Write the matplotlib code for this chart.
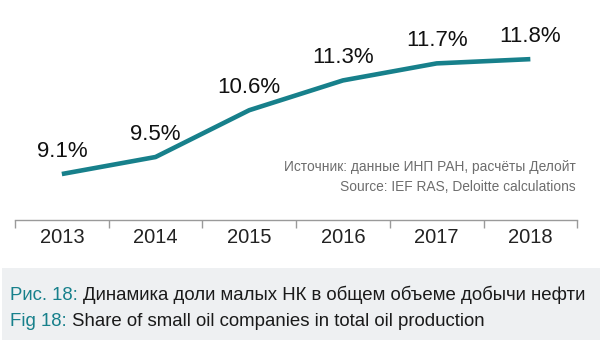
import matplotlib.pyplot as plt
from matplotlib.patches import Rectangle

plt.rcParams['font.family'] = ['Liberation Sans', 'DejaVu Sans']

# data
years = ['2013', '2014', '2015', '2016', '2017', '2018']
share = [9.1, 9.5, 10.6, 11.3, 11.7, 11.8]

teal = '#17808b'

fig = plt.figure(figsize=(6, 3.4), dpi=100)
ax = fig.add_axes([0.025, 0.353, 0.937, 0.647])

x = list(range(len(years)))
ax.plot(x, share, color=teal, lw=3.3, solid_capstyle='butt', solid_joinstyle='round')
for xi, v in zip(x, share):
    ax.annotate(f'{v:.1f}%', (xi, v), xytext=(0, 16.5), textcoords='offset points',
                ha='center', va='center', fontsize=16, color='#111111')

ax.set_xlim(-0.5, 5.5)
ax.set_ylim(8.02, 13.19)
ax.set_yticks([])
for s in ['top', 'right', 'left']:
    ax.spines[s].set_visible(False)
ax.spines['bottom'].set_color('#9a9a9a')
ax.spines['bottom'].set_linewidth(1.0)
ax.set_xticks(x)
ax.set_xticklabels(years, fontsize=14.5, color='#222222')
ax.tick_params(axis='x', which='major', length=0, pad=6)
ax.set_xticks([i - 0.5 for i in range(len(years) + 1)], minor=True)
ax.tick_params(axis='x', which='minor', length=6, width=1.0, color='#9a9a9a', direction='out')

ax.text(0.997, 0.24, 'Источник: данные ИНП РАН, расчёты Делойт', transform=ax.transAxes,
        ha='right', va='center', fontsize=9.9, color='#6d6d6d')
ax.text(0.997, 0.15, 'Source: IEF RAS, Deloitte calculations', transform=ax.transAxes,
        ha='right', va='center', fontsize=9.9, color='#6d6d6d')

# caption box
fig.patches.append(Rectangle((0.004, 0.0), 0.996, 72 / 340, transform=fig.transFigure,
                             facecolor='#eef0f2', edgecolor='none', zorder=0))
renderer = fig.canvas.get_renderer()
captions = [('Рис. 18:', 'Динамика доли малых НК в общем объеме добычи нефти', 295),
            ('Fig 18:', 'Share of small oil companies in total oil production', 322)]
for head, body, ypix in captions:
    t = fig.text(0.017, 1 - ypix / 340, head, color=teal, fontsize=13.4, va='center', ha='left')
    bb = t.get_window_extent(renderer)
    fig.text(bb.x1 / 600 + 0.009, 1 - ypix / 340, body, color='#1a1a1a', fontsize=13.4,
             va='center', ha='left')

fig.savefig('out.png', dpi=100)
